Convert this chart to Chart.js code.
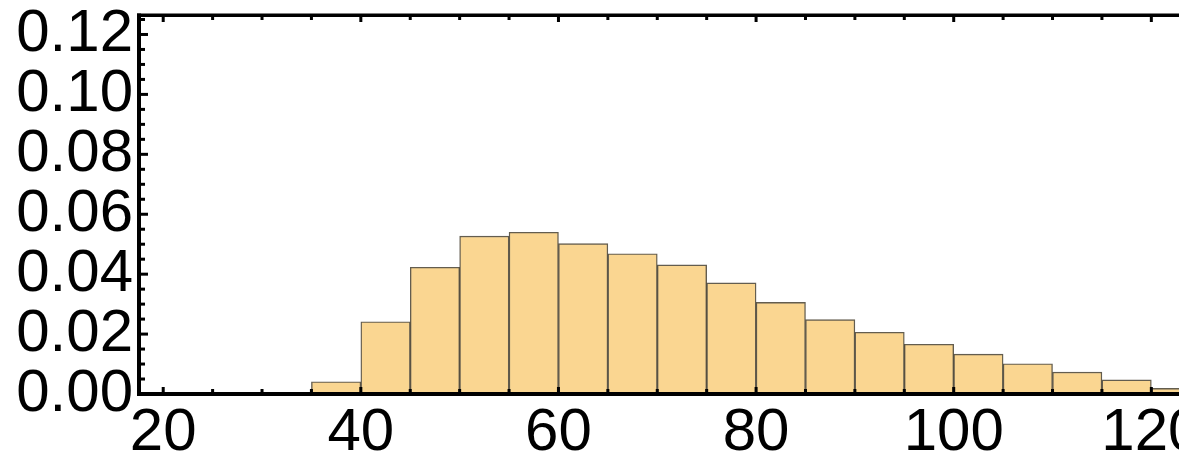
<!DOCTYPE html>
<html>
<head>
<meta charset="utf-8">
<script src="https://cdn.jsdelivr.net/npm/chart.js@4.4.0/dist/chart.umd.min.js"></script>
<style>
  body { margin: 0; background: #fff; width: 1199px; height: 466px; overflow: hidden; }
  canvas { display: block; }
</style>
</head>
<body>
<canvas id="hist" width="1179" height="466"></canvas>
<script>
// inicio de cada bin (ancho 5) y su densidad
const inicios = [35, 40, 45, 50, 55, 60, 65, 70, 75, 80, 85, 90, 95, 100, 105, 110, 115, 120];
const densidad = [0.0041, 0.0241, 0.0423, 0.0527, 0.0540, 0.0502, 0.0468, 0.0431, 0.0371,
                  0.0306, 0.0248, 0.0206, 0.0166, 0.0133, 0.0101, 0.0073, 0.0047, 0.0019];
const anchoBin = 5;
const ticksX = [20, 40, 60, 80, 100, 120];
const ticksY = [0, 0.02, 0.04, 0.06, 0.08, 0.10, 0.12];

const fuente = { family: 'Liberation Sans', size: 60 };

// marco tipo Mathematica: lineas y ticks hacia adentro
const marco = {
  id: 'marco',
  afterDatasetsDraw(chart) {
    const { ctx, chartArea: a, scales: { x, y } } = chart;
    ctx.save();
    ctx.fillStyle = '#000';
    for (let v = 20; v <= 125; v += 5) {
      const px = x.getPixelForValue(v);
      if (px < a.left || px > a.right) continue;
      const largo = v % 20 === 0 ? 7 : 5;
      ctx.fillRect(px - 1.5, a.bottom - largo, 3, largo);
      ctx.fillRect(px - 1.5, a.top, 3, largo);
    }
    for (let i = 0; i <= 25; i++) {
      const py = y.getPixelForValue(i * 0.005);
      if (py < a.top) continue;
      const largo = i % 4 === 0 ? 9 : 6;
      ctx.fillRect(a.left, py - 1.5, largo, 3);
    }
    ctx.fillRect(a.left - 2, a.top - 1.5, a.right - a.left + 2, 3.5);
    ctx.fillRect(a.left - 2, a.top - 1.5, 4, a.bottom - a.top + 3.5);
    ctx.fillRect(a.left - 2, a.bottom - 2, a.right - a.left + 2, 4);
    ctx.restore();
  }
};

new Chart(document.getElementById('hist'), {
  type: 'bar',
  data: {
    datasets: [{
      data: inicios.map((v, i) => ({ x: v + anchoBin / 2, y: densidad[i] })),
      backgroundColor: 'rgb(250, 214, 145)',
      borderColor: 'rgba(60, 52, 35, 0.8)',
      borderWidth: 1.4,
      barPercentage: 1,
      categoryPercentage: 1
    }]
  },
  options: {
    responsive: false,
    animation: false,
    layout: { padding: { top: 15, left: 0, right: 0, bottom: 0 } },
    plugins: { legend: { display: false }, tooltip: { enabled: false } },
    scales: {
      x: {
        type: 'linear',
        offset: false,
        min: 17.55,
        max: 122.8,
        grid: { display: false, drawTicks: false },
        border: { display: false },
        ticks: { font: fuente, color: '#000', padding: 3, maxRotation: 0, autoSkip: false },
        afterBuildTicks: s => { s.ticks = ticksX.map(v => ({ value: v })); },
        afterFit: s => { s.height = 72; s.paddingLeft = 0; s.paddingRight = 0; }
      },
      y: {
        min: 0,
        max: 0.1265,
        grid: { display: false, drawTicks: false },
        border: { display: false },
        ticks: { font: fuente, color: '#000', padding: 6, autoSkip: false, callback: v => v.toFixed(2) },
        afterBuildTicks: s => { s.ticks = ticksY.map(v => ({ value: v })); },
        afterFit: s => { s.width = 139; s.paddingTop = 0; s.paddingBottom = 0; }
      }
    }
  },
  plugins: [marco]
});
</script>
</body>
</html>
